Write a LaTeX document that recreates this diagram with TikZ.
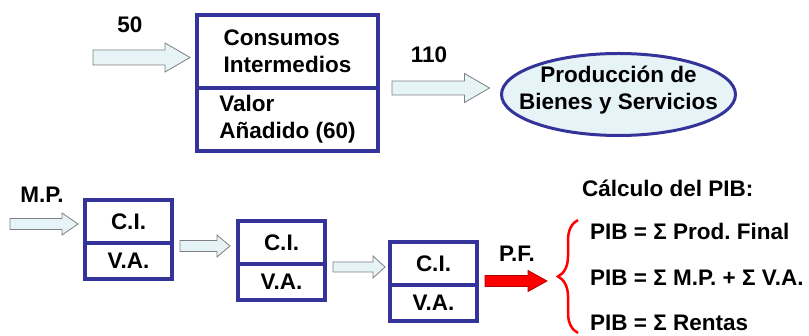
\documentclass[tikz,border=0pt]{standalone}
\usepackage{fontspec}
\setmainfont{Liberation Sans}
\usepackage{tikz}
\usetikzlibrary{positioning, calc, shapes.geometric, decorations.pathreplacing}
\definecolor{boxblue}{HTML}{333399}
\definecolor{paleblue}{HTML}{E6F3F7}
\definecolor{arrowgray}{HTML}{7F7F7F}
\definecolor{pfred}{HTML}{FF0000}
\definecolor{pfdark}{HTML}{B00000}
\frenchspacing

% block arrow: [style]{tail}{tip}{half shaft}{half head}{head length}
\newcommand{\blockarrow}[6][]{%
  \draw[blockarrow,#1] let \p1=#2, \p2=#3 in
    (\x1,\y1+#4) -- (\x2-#6,\y1+#4) -- (\x2-#6,\y1+#5) -- (\x2,\y1)
    -- (\x2-#6,\y1-#5) -- (\x2-#6,\y1-#4) -- (\x1,\y1-#4) -- cycle;}

\begin{document}
\begin{tikzpicture}[x=1pt, y=-1pt,
  txt/.style={font=\bfseries\fontsize{22.5}{27}\selectfont, inner sep=0pt},
  cell/.style={rectangle, draw=boxblue, line width=3.8pt, outer sep=0pt,
               inner sep=0pt, align=left, txt},
  prod/.style={ellipse, draw=boxblue, line width=3pt, fill=paleblue,
               minimum width=234pt, minimum height=82pt, inner sep=0pt, outer sep=0pt},
  blockarrow/.style={draw=arrowgray, fill=paleblue, line width=0.8pt},
  redarrow/.style={draw=pfdark, fill=pfred},
  bracket/.style={decorate, decoration={brace, amplitude=20pt}, draw=red, line width=2.5pt},
]
  \useasboundingbox (0,0) rectangle (809,336);

  % top row
  \node[cell, minimum width=181pt, minimum height=73pt] (ci) at (287.5,51.5) {Consumos\\Intermedios};
  \node[cell, minimum width=181pt, minimum height=63pt, below=0pt of ci] (va) {Valor\\Añadido (60)};
  \node[prod] (pbs) at (618.5,94.5) {};
  \node[txt, align=center, yshift=4pt] (pbstxt) at (pbs.center) {Producción de\\Bienes y Servicios};

  \coordinate (in50) at (93,57.5);
  \blockarrow{(in50)}{([xshift=-7pt]ci.west)}{7.5pt}{14.5pt}{25pt}
  \blockarrow{([xshift=14pt]ci.south east)}{([xshift=-12pt]pbs.west)}{7pt}{14.5pt}{25pt}
  \node[txt, anchor=base] (l50) at (130,33) {50};
  \node[txt, anchor=base] (l110) at (429,63) {110};

  % bottom row
  \node[cell, minimum width=87pt, minimum height=43pt] (ci1) at (128.5,221.5) {C.I.};
  \node[cell, minimum width=87pt, minimum height=36pt, below=0pt of ci1] (va1) {V.A.};
  \node[cell, minimum width=87pt, minimum height=43pt] (ci2) at ($(ci1)+(153,21)$) {C.I.};
  \node[cell, minimum width=87pt, minimum height=36pt, below=0pt of ci2] (va2) {V.A.};
  \node[cell, minimum width=87pt, minimum height=43pt] (ci3) at ($(ci2)+(152,21)$) {C.I.};
  \node[cell, minimum width=87pt, minimum height=36pt, below=0pt of ci3] (va3) {V.A.};

  \coordinate (inMP) at (10,224);
  \coordinate (pftip) at (547,282);
  \blockarrow{(inMP)}{([xshift=-7pt]ci1.west)}{5.5pt}{11pt}{16pt}
  \blockarrow{([xshift=8pt,yshift=-3pt]ci1.south east)}{([xshift=-8pt]ci2.west)}{5.5pt}{11pt}{13pt}
  \blockarrow{([xshift=8pt,yshift=-3pt]ci2.south east)}{([xshift=-5pt]ci3.west)}{5pt}{11pt}{12pt}
  \blockarrow[redarrow]{([xshift=8pt,yshift=4pt]ci3.south east)}{(pftip)}{5.5pt}{10.5pt}{19pt}
  \node[txt, anchor=base] (lmp) at (42,203) {M.P.};
  \node[txt, anchor=base] (lpf) at (517,262) {P.F.};

  % PIB
  \coordinate (brtop) at (578,220);
  \coordinate (brbot) at (578,333);
  \draw[bracket] (brbot) -- (brtop);
  \node[txt, anchor=base west] (calcpib) at (582,197) {Cálculo del PIB:};
  \node[txt, anchor=base west] (f1) at (590,240) {PIB = Σ Prod. Final};
  \node[txt, anchor=base west] (f2) at (590,286) {PIB = Σ M.P. + Σ V.A.};
  \node[txt, anchor=base west] (f3) at (590,331) {PIB = Σ Rentas};
\end{tikzpicture}
\end{document}
